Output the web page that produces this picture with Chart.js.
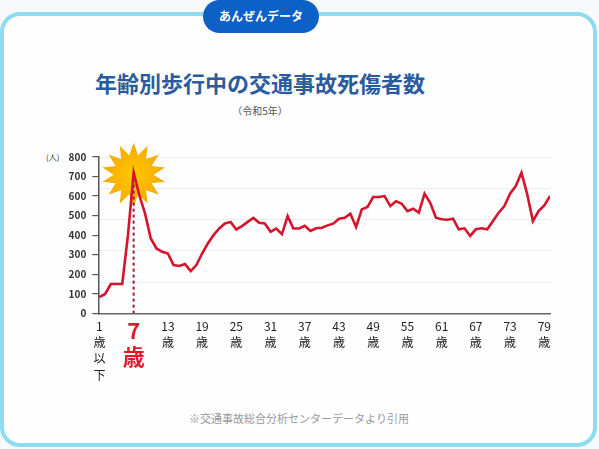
<!DOCTYPE html>
<html>
<head>
<meta charset="utf-8">
<script src="https://cdn.jsdelivr.net/npm/chart.js@4"></script>
<style>
  html, body { margin: 0; padding: 0; background: #f7f9fa; }
  body { width: 599px; height: 449px; position: relative; overflow: hidden; font-family: "Noto Sans CJK JP", "Noto Sans", sans-serif; }
  #box { position: absolute; left: 0; top: 12px; width: 589px; height: 427px; border: 4px solid #8fdcf0; border-radius: 20px; background: #fefefe; }
  #badge { position: absolute; left: 203px; top: 0; width: 116px; height: 33px; border-radius: 17px; background: #0d61c6; color: #fff; font-size: 12px; font-weight: bold; text-align: center; line-height: 32px; }
  #title { position: absolute; left: 0; width: 520px; top: 66px; text-align: center; color: #2a5c9d; font-size: 22px; font-weight: bold; }
  #sub { position: absolute; left: 0; width: 520px; top: 103px; text-align: center; color: #555; font-size: 10px; }
  #unit { position: absolute; left: 46px; top: 151px; color: #333; font-size: 8px; }
  #note { position: absolute; left: 0; width: 598px; top: 410px; text-align: center; color: #9a9a9a; font-size: 11px; }
  #wrap { position: absolute; left: 0; top: 140px; width: 599px; height: 260px; }
</style>
</head>
<body>
<div id="box"></div>
<div id="badge">あんぜんデータ</div>
<div id="title">年齢別歩行中の交通事故死傷者数</div>
<div id="sub">（令和5年）</div>
<div id="unit">(人)</div>
<div id="note">※交通事故総合分析センターデータより引用</div>
<div id="wrap"><canvas id="chart"></canvas></div>
<script>
// ages 1..80
var ages = [];
for (var i = 1; i <= 80; i++) ages.push(i);
var casualties = [
  83, 99, 150, 150, 150, 400, 720, 604, 510, 383,
  332, 315, 306, 247, 242, 252, 216, 247, 306, 357,
  400, 434, 460, 468, 429, 446, 468, 488, 463, 460,
  417, 434, 405, 497, 434, 434, 448, 421, 435, 438,
  450, 459, 484, 489, 510, 442, 532, 544, 595, 595,
  600, 549, 574, 561, 523, 535, 515, 613, 566, 489,
  481, 479, 484, 430, 435, 396, 430, 435, 430, 472,
  515, 549, 612, 651, 719, 610, 472, 523, 552, 600
];
var xTicks = [1, 7, 13, 19, 25, 31, 37, 43, 49, 55, 61, 67, 73, 79];
var gridVals = [160, 320, 480, 640, 800];
var peakAge = 7;

var peakMarks = {
  id: 'peakMarks',
  beforeDatasetsDraw: function (chart) {
    var c = chart.ctx, x = chart.scales.x, y = chart.scales.y;
    var px = x.getPixelForValue(peakAge);
    var py = y.getPixelForValue(casualties[peakAge - 1]);
    // starburst
    var n = 14, ro = 32, ri = 20;
    c.save();
    c.beginPath();
    for (var k = 0; k < n * 2; k++) {
      var r = k % 2 === 0 ? ro : ri;
      var a = Math.PI * k / n - Math.PI / 2;
      var sx = px + r * Math.cos(a), sy = py + 2 + r * Math.sin(a);
      if (k === 0) c.moveTo(sx, sy); else c.lineTo(sx, sy);
    }
    c.closePath();
    var g = c.createRadialGradient(px, py + 2, 4, px, py + 2, ro);
    g.addColorStop(0, '#ffc400');
    g.addColorStop(1, '#f7a800');
    c.fillStyle = g;
    c.fill();
    // dashed drop line
    c.beginPath();
    c.setLineDash([3, 3]);
    c.lineWidth = 2;
    c.strokeStyle = '#9c1a33';
    c.moveTo(px, py);
    c.lineTo(px, y.getPixelForValue(0));
    c.stroke();
    c.restore();
  }
};

new Chart(document.getElementById('chart'), {
  type: 'line',
  data: {
    datasets: [{
      data: ages.map(function (a, i) { return { x: a, y: casualties[i] }; }),
      borderColor: '#d3152d',
      borderWidth: 2.6,
      pointRadius: 0,
      tension: 0
    }]
  },
  options: {
    responsive: true,
    maintainAspectRatio: false,
    animation: false,
    layout: { padding: { top: 17, right: 49, left: 0, bottom: 0 } },
    plugins: { legend: { display: false }, tooltip: { enabled: false } },
    scales: {
      x: {
        type: 'linear', min: 0.8, max: 80,
        afterBuildTicks: function (s) { s.ticks = xTicks.map(function (v) { return { value: v }; }); },
        afterFit: function (s) { s.height = 86.7; },
        grid: { display: false },
        border: { color: '#666', width: 1.5 },
        ticks: {
          autoSkip: false, maxRotation: 0, padding: -3,
          callback: function (v) {
            if (v === 1) return ['1', '歳', '以', '下'];
            return [String(v), '歳'];
          },
          color: function (ctx) { return ctx.tick && ctx.tick.value === peakAge ? '#e01a2b' : '#222'; },
          font: function (ctx) {
            if (ctx.tick && ctx.tick.value === peakAge) return { family: '"Noto Sans CJK JP"', size: 22, weight: 'bold', lineHeight: 1.15 };
            return { family: '"Noto Sans CJK JP"', size: 12, lineHeight: 1.35 };
          }
        }
      },
      y: {
        min: 0, max: 800,
        afterFit: function (s) { s.width = 98.3; },
        grid: { display: true, drawOnChartArea: false, drawTicks: true, tickLength: 6, color: '#555', lineWidth: 1.2 },
        border: { color: '#555', width: 1.5 },
        ticks: { stepSize: 100, color: '#333', padding: 6, font: { family: '"Noto Sans CJK JP"', size: 10, weight: 'bold' } }
      },
      yg: {
        min: 0, max: 800, position: 'right',
        afterBuildTicks: function (s) { s.ticks = gridVals.map(function (v) { return { value: v }; }); },
        afterFit: function (s) { s.width = 0; },
        ticks: { display: false },
        border: { display: false },
        grid: { color: '#ececec', lineWidth: 1, drawTicks: false }
      }
    }
  },
  plugins: [peakMarks]
});
</script>
</body>
</html>
